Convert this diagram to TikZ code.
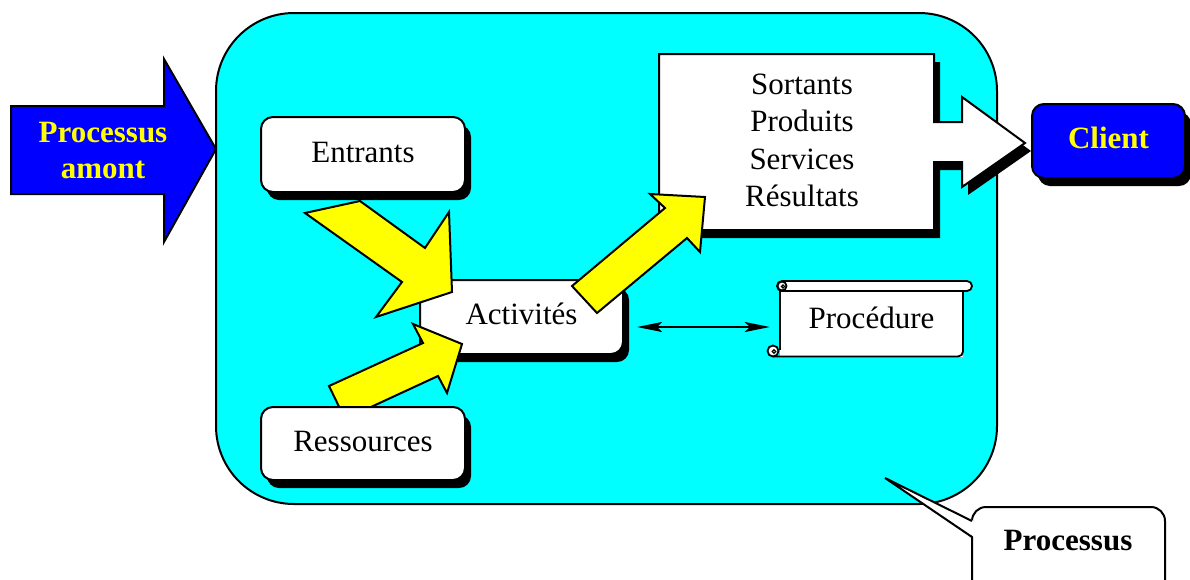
\documentclass[tikz,border=0pt]{standalone}
\usepackage{fontspec}
\setmainfont{Liberation Serif}
\usetikzlibrary{shadows,arrows.meta,calc}
\definecolor{cyanbg}{HTML}{00FFFF}
\definecolor{bluebox}{HTML}{0000FF}
\definecolor{yel}{HTML}{FFFF00}
\tikzset{
  outline/.style={draw=black, line width=2pt, line join=miter},
  blkshadow/.style={drop shadow={shadow xshift=6pt, shadow yshift=-8pt, fill=black, opacity=1}},
  bigtxt/.style={font=\fontsize{31}{36}\selectfont},
  boldtxt/.style={font=\fontsize{31}{36}\selectfont\bfseries},
  whitebox/.style={outline, fill=white, rounded corners=12pt, blkshadow, inner sep=0pt,
    text height=22pt, text depth=7pt, bigtxt},
  yarrow/.style={outline, fill=yel},
  scrollline/.style={draw=black, line width=1.8pt},
  dblarrow/.style={line width=2pt, {Stealth[length=25pt,width=10pt,inset=5pt]}-{Stealth[length=25pt,width=10pt,inset=5pt]}},
}
\begin{document}
\begin{tikzpicture}[x=1pt,y=-1pt]
\useasboundingbox (0,0) rectangle (1190,579);
\clip (0,0) rectangle (1190,579);
\fill[white] (0,0) rectangle (1190,579);

% big process container
\node[outline, fill=cyanbg, rounded corners=78pt, minimum width=781pt, minimum height=491pt, inner sep=0pt] (procbox) at (606.5,258.5) {};

% upstream process arrow
\draw[outline, fill=bluebox] (11,106) -- (164,106) -- (164,59) -- (216,149) -- (164,242) -- (164,194) -- (11,194) -- cycle;
\node[boldtxt, text=yel, align=center] (amont) at (103,150.5) {Processus\\amont};

% activities
\node[whitebox, minimum width=203pt, minimum height=74pt] (act) at (521.5,317) {Activités};

% outputs shape
\draw[outline, fill=white, blkshadow] (659,54) -- (934,54) -- (934,122) -- (962,122) -- (962,97) -- (1025,143) -- (962,187) -- (962,162) -- (934,162) -- (934,230) -- (659,230) -- cycle;
\node[align=center, font=\fontsize{31}{37.3}\selectfont] (sort) at (802,140.5) {Sortants\\Produits\\Services\\Résultats};

% yellow block arrows
\draw[yarrow] (305,213) -- (402,282) -- (376,317) -- (452,292) -- (449,212) -- (425,248) -- (360,201) -- cycle;
\draw[yarrow] (345,419) -- (329,386) -- (423,343) -- (413,324) -- (462,344) -- (447,393) -- (438,376) -- cycle;
\draw[yarrow] (597,313) -- (572,286) -- (665,208) -- (650,194) -- (705,197) -- (700,252) -- (687,238) -- cycle;

% inputs and resources
\node[whitebox, minimum width=204pt, minimum height=75pt] (ent) at (363,154.5) {Entrants};
\node[whitebox, minimum width=204pt, minimum height=73pt] (res) at (363,443.5) {Ressources};

% procedure scroll
\fill[white] (780,289) rectangle (963,356.5);
\draw[scrollline] (780,289) -- (780,350);
\draw[scrollline, rounded corners=5pt] (773,356.5) -- (963,356.5) -- (963,289);
\draw[scrollline, fill=white] (773,351) circle[radius=5.5];
\draw[line width=1.2pt] (774,351.5) circle[radius=1.8];
\draw[scrollline, fill=white, rounded corners=5pt] (777,281) rectangle (972,291);
\draw[scrollline, fill=white] (782,286) circle[radius=4.5];
\draw[line width=1.2pt] (783,286.5) circle[radius=1.6];
\node[minimum width=183pt, minimum height=76pt, inner sep=0pt, text height=24pt, text depth=6pt, bigtxt] (proc) at (871.5,319) {Procédure};

\draw[dblarrow, shorten <=13pt, shorten >=10pt] (act.east |- 0,327) -- (proc.west |- 0,327);

% client
\node[outline, fill=bluebox, rounded corners=12pt, blkshadow, minimum width=153pt, minimum height=74pt, inner sep=0pt, text height=22pt, text depth=7pt, boldtxt, text=yel] (client) at (1108.5,141) {Client};

% callout
\draw[outline, fill=white, rounded corners=14pt] (972,507) rectangle (1165,640);
\fill[white] (885,478) -- (974,521) -- (974,537) -- cycle;
\draw[outline] (972,521) -- (885,478) -- (972,537);
\node[boldtxt, anchor=base] (ptxt) at (1068,550) {Processus};
\end{tikzpicture}
\end{document}
